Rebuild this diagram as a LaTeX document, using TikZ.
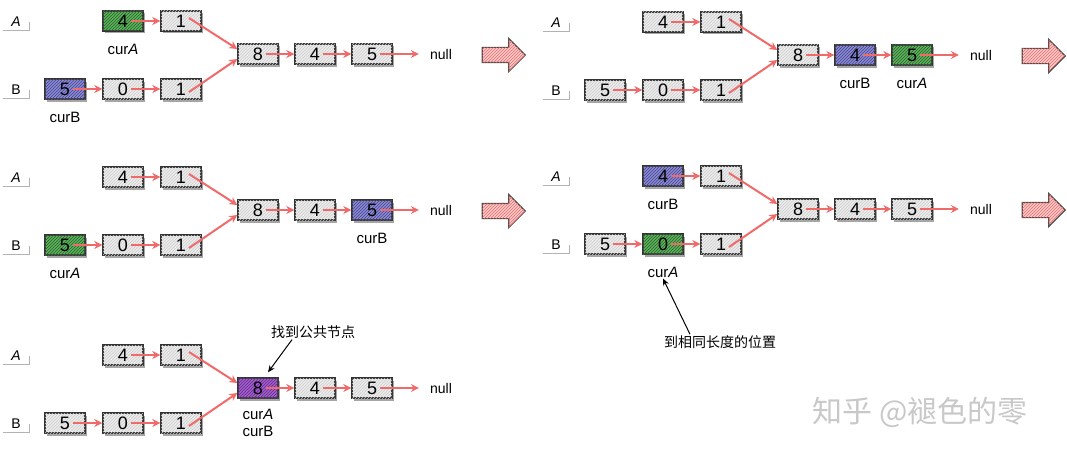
\documentclass[tikz,border=0pt]{standalone}
\usepackage{fontspec}
\setmainfont{Liberation Sans}
\newfontfamily\cjk{Noto Sans CJK SC}
\usetikzlibrary{positioning,arrows.meta,patterns,shadows,shapes.arrows}
\definecolor{linkred}{HTML}{F06A6A}
\definecolor{cellgray}{HTML}{EDEDED}
\definecolor{cellgreen}{HTML}{4DB84D}
\definecolor{cellblue}{HTML}{8585EC}
\definecolor{cellpurple}{HTML}{A94FE4}
\definecolor{arrowpink}{HTML}{F8CACA}
\definecolor{markgray}{HTML}{C8C8C8}
\tikzset{
  cell/.style={draw=black!80, line width=1.4pt, fill=cellgray, minimum width=40pt, minimum height=20pt,
    inner sep=0pt, font=\fontsize{18}{18}\selectfont,
    drop shadow={shadow xshift=1.5pt, shadow yshift=-2.5pt, fill=black, opacity=.35},
    postaction={pattern=north east lines, pattern color=gray!40}},
  greencell/.style={fill=cellgreen, postaction={pattern=north east lines, pattern color=cellgreen!45!black}},
  bluecell/.style={fill=cellblue, postaction={pattern=north east lines, pattern color=cellblue!45!black}},
  purplecell/.style={fill=cellpurple, postaction={pattern=north east lines, pattern color=cellpurple!45!black}},
  slotA4/.style={}, slotA1/.style={}, slotB5/.style={}, slotB0/.style={}, slotB1/.style={},
  slotM8/.style={}, slotM4/.style={}, slotM5/.style={},
  tag/.style={minimum width=26pt, minimum height=16pt, inner sep=0pt, font=\fontsize{14}{14}\selectfont},
  tagline/.style={draw=gray!60, line width=1pt},
  nullmark/.style={inner sep=1pt, font=\fontsize{14}{14}\selectfont},
  ptr/.style={inner sep=1pt, font=\fontsize{15}{15}\selectfont},
  link/.style={draw=linkred, line width=2pt, -{Stealth[length=8pt,width=8pt]}},
  pointer/.style={draw=black, line width=1pt, -{Stealth[length=7pt,width=6pt]}},
  note/.style={inner sep=1pt, font=\cjk\fontsize{14}{14}\selectfont},
  bigarrow/.style={single arrow, draw=black!70, line width=1.2pt, fill=arrowpink,
    minimum height=43pt, inner xsep=0pt, inner ysep=7pt, single arrow head extend=9pt,
    postaction={pattern=north east lines, pattern color=linkred}},
  watermark/.style={text=markgray, font=\cjk\fontsize{30}{30}\selectfont}
}
% one picture of the two lists
\newcommand{\twolists}[1]{%
  \node[tag] (#1-A) at (16,22) {\textit{A}};
  \node[tag] (#1-B) at (16,90) {B};
  \node[cell, slotA4] (#1-a4) at (123,21) {4};
  \node[cell, slotA1] (#1-a1) at (181,21) {1};
  \node[cell, slotB5] (#1-b5) at (65,89) {5};
  \node[cell, slotB0] (#1-b0) at (123,89) {0};
  \node[cell, slotB1] (#1-b1) at (181,89) {1};
  \node[cell, slotM8] (#1-m8) at (258,54) {8};
  \node[cell, slotM4] (#1-m4) at (315,54) {4};
  \node[cell, slotM5] (#1-m5) at (372,54) {5};
  \node[nullmark] (#1-null) at (441,54) {null};
  \draw[tagline] (#1-A.south west) -| (#1-A.east);
  \draw[tagline] (#1-B.south west) -| (#1-B.east);
  \draw[link] ([xshift=8pt]#1-a4.center) -- (#1-a1.west);
  \draw[link] ([xshift=8pt]#1-b5.center) -- (#1-b0.west);
  \draw[link] ([xshift=8pt]#1-b0.center) -- (#1-b1.west);
  \draw[link] ([xshift=8pt,yshift=3pt]#1-a1.center) -- ([yshift=5pt]#1-m8.west);
  \draw[link] ([xshift=8pt,yshift=-3pt]#1-b1.center) -- ([yshift=-5pt]#1-m8.west);
  \draw[link] ([xshift=8pt]#1-m8.center) -- (#1-m4.west);
  \draw[link] ([xshift=8pt]#1-m4.center) -- (#1-m5.west);
  \draw[link] ([xshift=8pt]#1-m5.center) -- ([xshift=-10pt]#1-null.west);
}

\begin{document}
\begin{tikzpicture}[x=1pt, y=-1pt]
  \useasboundingbox (0,0) rectangle (1067,460);
  \begin{scope}[slotA4/.style={greencell}, slotB5/.style={bluecell}]
    \twolists{p1}
    \node[ptr, below=11pt of p1-a4] (p1-curA) {cur\textit{A}};
    \node[ptr, below=11pt of p1-b5] (p1-curB) {curB};
    \node[bigarrow] (p1-go) at (500,55) {};
  \end{scope}
  \begin{scope}[shift={(540,1)}, slotM4/.style={bluecell}, slotM5/.style={greencell}]
    \twolists{p2}
    \node[ptr, below=11pt of p2-m4] (p2-curB) {curB};
    \node[ptr, below=11pt of p2-m5] (p2-curA) {cur\textit{A}};
    \node[bigarrow] (p2-go) at (500,55) {};
  \end{scope}
  \begin{scope}[shift={(0,156)}, slotM5/.style={bluecell}, slotB5/.style={greencell}]
    \twolists{p3}
    \node[ptr, below=11pt of p3-m5] (p3-curB) {curB};
    \node[ptr, below=11pt of p3-b5] (p3-curA) {cur\textit{A}};
    \node[bigarrow] (p3-go) at (500,55) {};
  \end{scope}
  \begin{scope}[shift={(540,155)}, slotA4/.style={bluecell}, slotB0/.style={greencell}]
    \twolists{p4}
    \node[ptr, below=11pt of p4-a4] (p4-curB) {curB};
    \node[ptr, below=11pt of p4-b0] (p4-curA) {cur\textit{A}};
    \node[bigarrow] (p4-go) at (500,55) {};
    \node[note] (p4-note) at (180,187) {到相同长度的位置};
    \draw[pointer] ([xshift=-30pt]p4-note.north) -- (p4-curA.south);
  \end{scope}
  \begin{scope}[shift={(0,334)}, slotM8/.style={purplecell}]
    \twolists{p5}
    \node[ptr, below=9pt of p5-m8] (p5-curA) {cur\textit{A}};
    \node[ptr, below=4pt of p5-curA] (p5-curB) {curB};
    \node[note] (p5-note) at (313,-2) {找到公共节点};
    \draw[pointer] ([xshift=-21pt]p5-note.south) -- ([xshift=10pt,yshift=5pt]p5-m8.north);
  \end{scope}
  \node[watermark] (mark) at (920,412) {知乎 @褪色的零};
\end{tikzpicture}
\end{document}
